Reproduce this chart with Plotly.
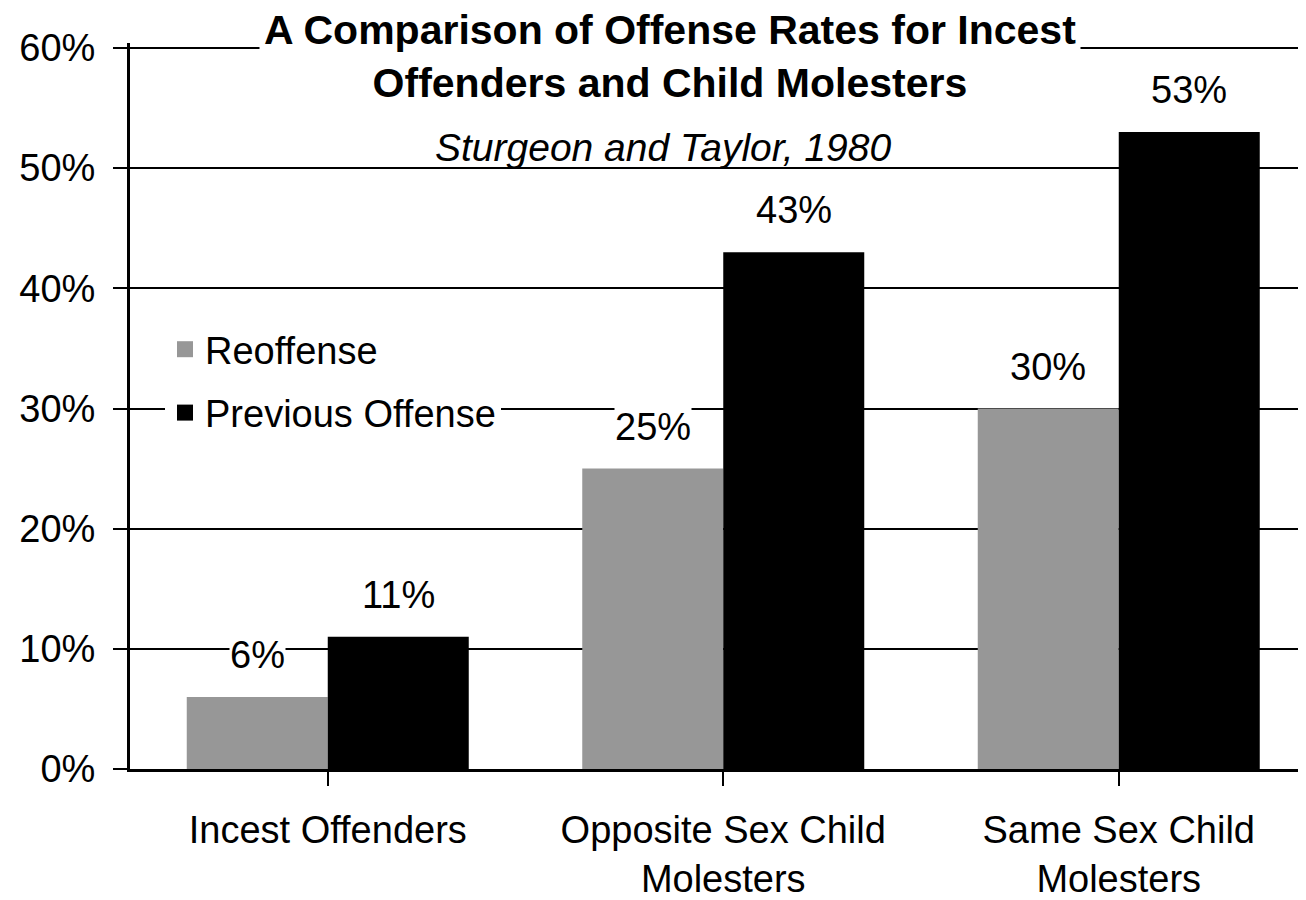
import plotly.graph_objects as go

categories = ["Incest Offenders", "Opposite Sex Child<br>Molesters", "Same Sex Child<br>Molesters"]
series_names = ["Reoffense", "Previous Offense"]
reoffense = [0.06, 0.25, 0.30]
previous_offense = [0.11, 0.43, 0.53]
y_tickvals = [0, 0.1, 0.2, 0.3, 0.4, 0.5, 0.6]
y_ticktext = ["0%", "10%", "20%", "30%", "40%", "50%", "60%"]
title_text = "A Comparison of Offense Rates for Incest<br>Offenders and Child Molesters"
subtitle_text = "Sturgeon and Taylor, 1980"

OFF = 8  # page body margin
W, H = 1306 - OFF, 900 - OFF
Y0_PIX, YMAX_PIX = 769, 48          # page pixels of 0% and 60%
TOP_PIX = 43                         # plot top a bit above 60% so its gridline shows
y_max = max(y_tickvals)
scale = (Y0_PIX - YMAX_PIX) / y_max
y_top = y_max + (YMAX_PIX - TOP_PIX) / scale

ML, MT = 130 - OFF, TOP_PIX - OFF
MB = H - (Y0_PIX - OFF)
MR = W - (1306 - OFF)
FONT = "Liberation Sans, Arial, sans-serif"
BARGAP = 0.287
GRAY = "#979797"
COLORS = [GRAY, "black"]

plot_h = H - MT - MB
plot_w = W - ML - MR
def py(pix):
    return (Y0_PIX - pix) / plot_h
def px(pix):
    return (pix - 130) / plot_w

fig = go.Figure()
for name, vals, col, grp in ((series_names[0], reoffense, COLORS[0], "a"),
                             (series_names[1], previous_offense, COLORS[1], "b")):
    fig.add_trace(go.Bar(x=list(range(3)), y=vals, name=name, legendgroup=grp,
                         showlegend=False, marker=dict(color=col, line=dict(width=0))))
    # legend entry with a larger square swatch
    fig.add_trace(go.Scatter(x=[None], y=[None], name=name, legendgroup=grp, mode="markers",
                             marker=dict(symbol="square", size=26, color=col, line=dict(width=0)),
                             hoverinfo="skip"))

bw = (1 - BARGAP) / 2
annotations = []
for series, off in ((reoffense, -bw / 2), (previous_offense, bw / 2)):
    for i, v in enumerate(series):
        annotations.append(dict(x=i + off, y=v, xref="x", yref="y",
                                text=f"{round(v*100)}%", showarrow=False,
                                yanchor="bottom", yshift=20, bgcolor="white",
                                borderpad=0,
                                font=dict(family=FONT, size=38, color="black")))

annotations.append(dict(x=px(670), y=py(57), xref="paper", yref="paper",
                        text="<b>" + title_text.replace("<br>", "</b><br><b>") + "</b>",
                        showarrow=False, xanchor="center", yanchor="middle",
                        bgcolor="white", borderpad=4,
                        font=dict(family=FONT, size=41, color="black")))
annotations.append(dict(x=px(663), y=py(148), xref="paper", yref="paper",
                        text="<i>" + subtitle_text + "</i>",
                        showarrow=False, xanchor="center", yanchor="middle",
                        font=dict(family=FONT, size=39, color="black")))

cat_w = 395.5
fig.update_layout(
    width=W, height=H,
    margin=dict(l=ML, r=MR, t=MT, b=MB, pad=0),
    paper_bgcolor="white", plot_bgcolor="white",
    barmode="group", bargap=BARGAP, bargroupgap=0,
    font=dict(family=FONT, size=38, color="black"),
    showlegend=True,
    legend=dict(x=px(165), y=py(318), xanchor="left", yanchor="top",
                bgcolor="white", borderwidth=0, font=dict(family=FONT, size=38, color="black"),
                itemwidth=30, itemsizing="trace", tracegroupgap=11, traceorder="grouped"),
    xaxis=dict(tickmode="array", tickvals=list(range(3)), ticktext=categories,
               range=[-0.5, -0.5 + plot_w / cat_w],
               tickson="boundaries", ticks="outside", ticklen=14, tickwidth=2, tickcolor="black",
               showline=True, linecolor="black", linewidth=3, showgrid=False, zeroline=False,
               ticklabelstandoff=11,
               tickfont=dict(family=FONT, size=38, color="black"), fixedrange=True),
    yaxis=dict(range=[0, y_top], tickvals=y_tickvals, ticktext=y_ticktext,
               ticks="outside", ticklen=14, tickwidth=2, tickcolor="black",
               showline=True, linecolor="black", linewidth=3,
               showgrid=True, gridcolor="black", gridwidth=2, zeroline=False,
               ticklabelstandoff=10,
               tickfont=dict(family=FONT, size=38, color="black"), fixedrange=True),
    annotations=annotations,
)

fig.write_html("out.html")
